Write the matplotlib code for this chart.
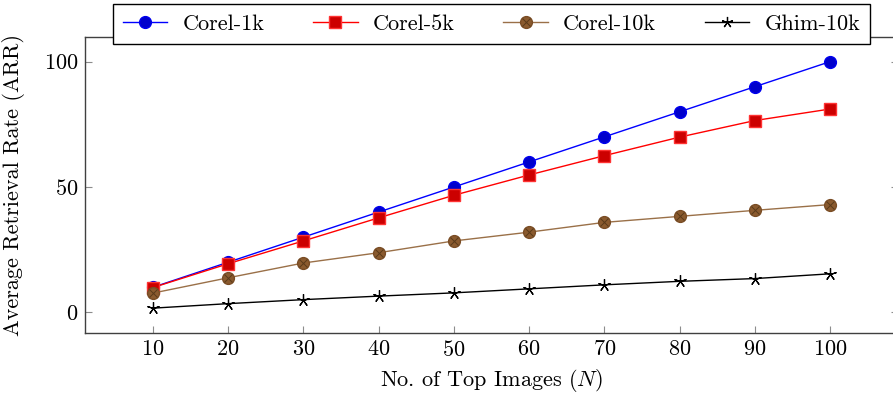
import matplotlib
matplotlib.use("Agg")
import matplotlib.pyplot as plt
from matplotlib.lines import Line2D

plt.rcParams['font.family'] = 'serif'
plt.rcParams['font.serif'] = ['cmr10']
plt.rcParams['mathtext.fontset'] = 'cm'
plt.rcParams['axes.formatter.use_mathtext'] = True

top_n = [10, 20, 30, 40, 50, 60, 70, 80, 90, 100]
corel_1k = [10, 20, 30, 40, 50, 60, 70, 80, 90, 100]
corel_5k = [9.9, 19.4, 28.5, 37.7, 46.7, 54.8, 62.5, 69.9, 76.5, 81.1]
corel_10k = [7.7, 13.8, 19.7, 23.8, 28.5, 32.0, 35.9, 38.3, 40.7, 43.0]
ghim_10k = [1.7, 3.5, 5.1, 6.5, 7.8, 9.4, 11.0, 12.4, 13.5, 15.4]

FS = 16
W, H = 893, 393
fig = plt.figure(figsize=(W / 100, H / 100), dpi=100)
left, right, top, bottom = 85, 898, 37, 333
ax = fig.add_axes([left / W, (H - bottom) / H, (right - left) / W, (bottom - top) / H])

ax.plot(top_n, corel_1k, color='#0000ff', lw=1.0, marker='o', ms=8.5,
        mfc='#0000cc', mec='#0000ee', label='Corel-1k', zorder=3)
ax.plot(top_n, corel_5k, color='#ff0000', lw=1.0, marker='s', ms=8,
        mfc='#cc0000', mec='#ff3333', label='Corel-5k', zorder=3)
ax.plot(top_n, corel_10k, color='#9a7048', lw=1.0, marker='o', ms=8.5,
        mfc='#8a5a2e', mec='#7a4d25', label='Corel-10k', zorder=3)
ax.plot(top_n, corel_10k, ls='none', marker='x', ms=5.5, mew=0.7,
        color='#5a3a1a', zorder=4)
ax.plot(top_n, ghim_10k, color='black', lw=1.0, marker=(5, 2, 0), ms=9,
        mew=0.9, label='Ghim-10k', zorder=3)

ax.set_xlim(1, 109)
ax.set_ylim(-8.2, 109.8)
ax.set_xticks(top_n)
ax.set_yticks([0, 50, 100])
ax.tick_params(direction='in', length=5, width=0.8, color='#8c8c8c',
               top=True, right=True, labelsize=FS, pad=5)
for s in ax.spines.values():
    s.set_color('#404040')
    s.set_linewidth(1.0)

ax.set_xlabel('No. of Top Images ($N$)', fontsize=FS, labelpad=5)
ax.set_ylabel('Average Retrieval Rate (ARR)', fontsize=FS)
ax.yaxis.set_label_coords(-0.074, 0.5)

handles = [
    Line2D([], [], color='#0000ff', lw=1.0, marker='o', ms=8.5, mfc='#0000cc', mec='#0000ee'),
    Line2D([], [], color='#ff0000', lw=1.0, marker='s', ms=8, mfc='#cc0000', mec='#ff3333'),
    (Line2D([], [], color='#9a7048', lw=1.0, marker='o', ms=8.5, mfc='#8a5a2e', mec='#7a4d25'),
     Line2D([], [], ls='none', marker='x', ms=5.5, mew=0.7, color='#5a3a1a')),
    Line2D([], [], color='black', lw=1.0, marker=(5, 2, 0), ms=8, mew=0.9),
]
labels = ['Corel-1k', 'Corel-5k', 'Corel-10k', 'Ghim-10k']
leg = ax.legend(handles, labels, loc='center', bbox_to_anchor=(0.5, 1.044),
                ncol=4, fontsize=FS, frameon=True, fancybox=False,
                edgecolor='black', framealpha=1, handlelength=2.0,
                columnspacing=2.2, borderpad=0.45, handletextpad=0.68)
leg.get_frame().set_linewidth(1.0)

fig.savefig('out.png', dpi=100)
